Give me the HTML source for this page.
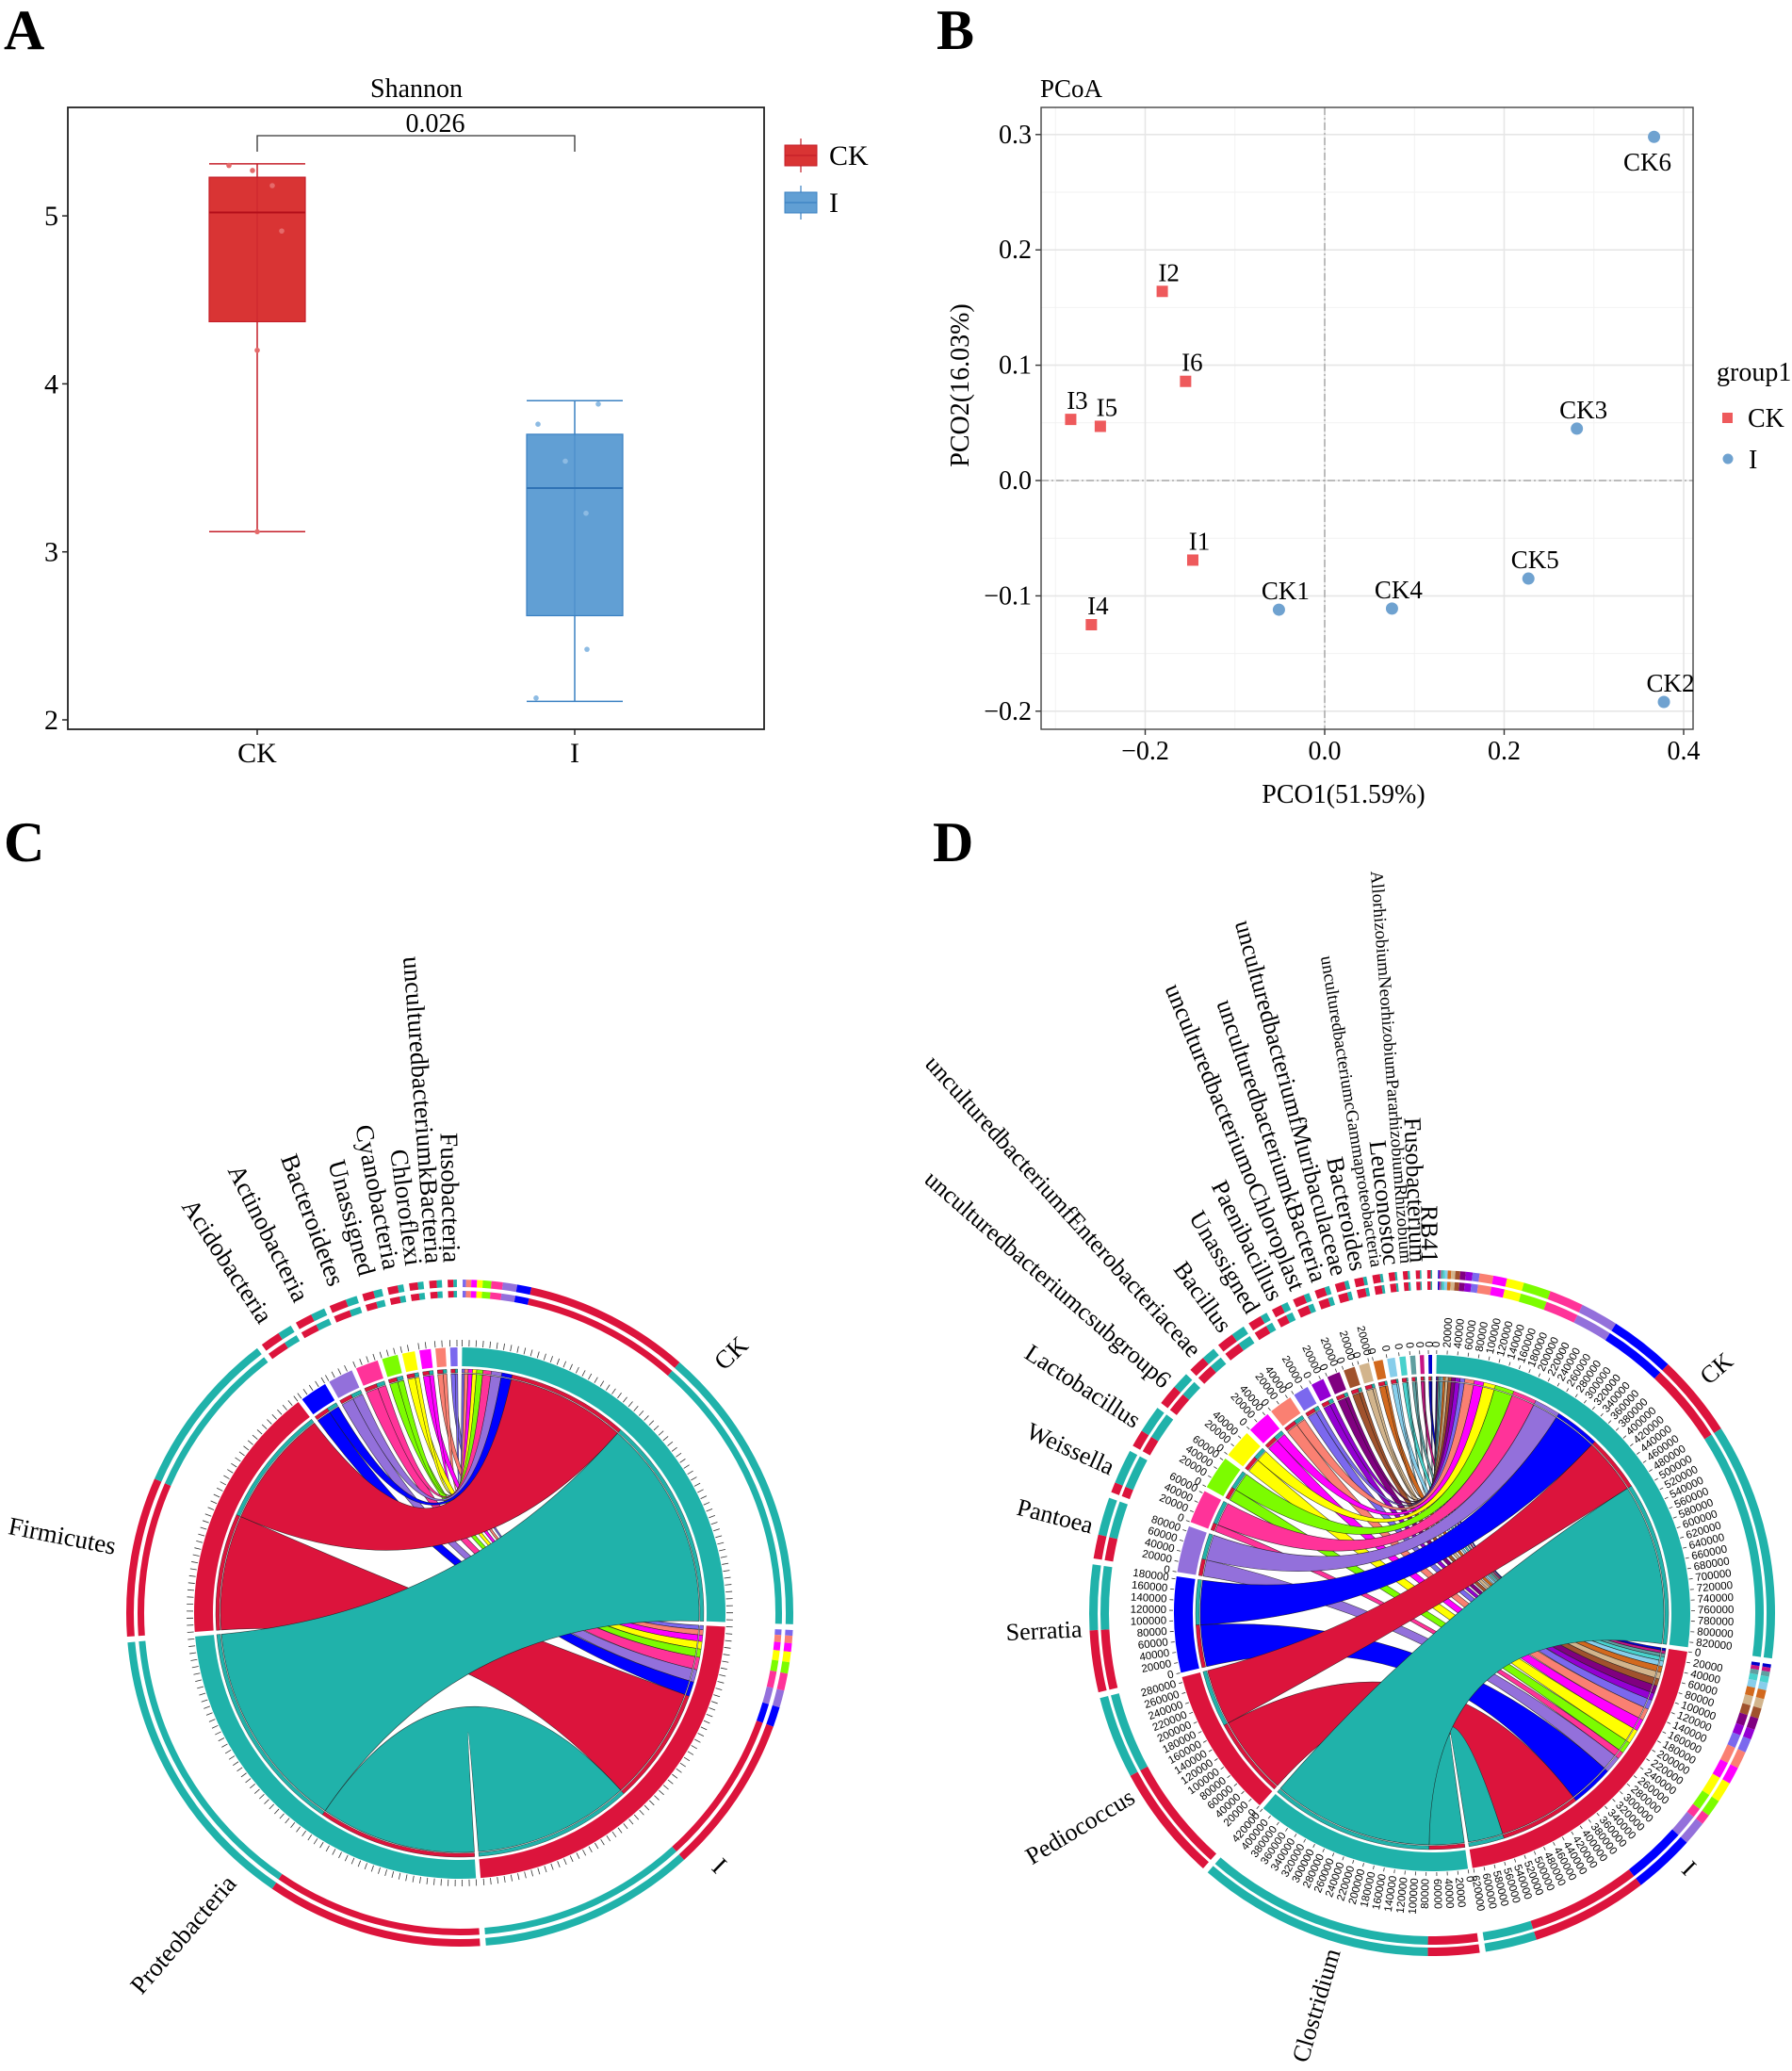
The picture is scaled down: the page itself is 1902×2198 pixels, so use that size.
<!DOCTYPE html>
<html><head><meta charset="utf-8"><title>Figure</title>
<style>
html,body{margin:0;padding:0;background:#fff;}
svg{display:block;}
</style></head>
<body>
<svg id="fig" width="1902" height="2198" viewBox="0 0 1902 2198">
<rect x="0" y="0" width="1902" height="2198" fill="#fff"/>
<text x="4" y="52" font-size="60" font-weight="bold" font-family="Liberation Serif, serif">A</text>
<text x="994" y="52" font-size="60" font-weight="bold" font-family="Liberation Serif, serif">B</text>
<text x="4" y="914" font-size="60" font-weight="bold" font-family="Liberation Serif, serif">C</text>
<text x="990" y="914" font-size="60" font-weight="bold" font-family="Liberation Serif, serif">D</text>
<g id="pa"></g>
<g id="pb"></g>
<g id="pc"></g>
<g id="pd"></g>
</svg>
<script>
// ---------- Panel A data ----------
const boxGroups = ['CK', 'I'];
const boxMin = [3.12, 2.11];
const boxQ1 = [4.37, 2.62];
const boxMed = [5.02, 3.38];
const boxQ3 = [5.23, 3.70];
const boxMax = [5.31, 3.90];
const ckPoints = [5.30, 5.27, 5.18, 4.91, 4.20, 3.12];
const iPoints = [3.88, 3.76, 3.54, 3.23, 2.42, 2.13];
const pointJitter = [[-30, -5, 16, 26, 0, 0], [25, -39, -10, 12, 13, -41]];
const aTicks = [2, 3, 4, 5];
const pValue = '0.026';

// ---------- Panel B data ----------
const pcoaNames = ['I1','I2','I3','I4','I5','I6','CK1','CK2','CK3','CK4','CK5','CK6'];
const pcoaX = [-0.147,-0.181,-0.283,-0.260,-0.250,-0.155,-0.051,0.378,0.281,0.075,0.227,0.367];
const pcoaY = [-0.069,0.164,0.053,-0.125,0.047,0.086,-0.112,-0.192,0.045,-0.111,-0.085,0.298];
const pcoaGroup = ['CK','CK','CK','CK','CK','CK','I','I','I','I','I','I'];
const bXTicks = [-0.2, 0, 0.2, 0.4];
const bXTickLabels = ['\u22120.2', '0.0', '0.2', '0.4'];
const bYTicks = [-0.2, -0.1, 0, 0.1, 0.2, 0.3];
const bYTickLabels = ['\u22120.2', '\u22120.1', '0.0', '0.1', '0.2', '0.3'];
const bXMinor = [-0.3, -0.1, 0.1, 0.3];
const bYMinor = [-0.15, -0.05, 0.05, 0.15, 0.25];

// ---------- Panel C data ----------
const cTaxa = ['Proteobacteria','Firmicutes','Acidobacteria','Actinobacteria','Bacteroidetes','Unassigned','Cyanobacteria','Chloroflexi','unculturedbacteriumkBacteria','Fusobacteria'];
const cCK = [51, 29, 2.5, 2.5, 2.0, 1.5, 1.0, 1.0, 0.9, 0.6];
const cI = [38, 28, 3.5, 3.0, 3.0, 2.0, 1.8, 1.5, 1.3, 1.0];
const cColors = ['#20B2AA','#DC143C','#0000FF','#9370DB','#FF3399','#7CFC00','#FFFF00','#FF00FF','#FA8072','#7B68EE'];

// ---------- Panel D data ----------
const dTaxa = ['Clostridium','Pediococcus','Serratia','Pantoea','Weissella','Lactobacillus','unculturedbacteriumcsubgroup6','unculturedbacteriumfEnterobacteriaceae','Bacillus','Unassigned','Paenibacillus','unculturedbacteriumoChloroplast','unculturedbacteriumkBacteria','unculturedbacteriumfMuribaculaceae','Bacteroides','unculturedbacteriumcGammaproteobacteria','Leuconostoc','AllorhizobiumNeorhizobiumPararhizobiumRhizobium','Fusobacterium','RB41'];
const dCK = [345000,120000,95000,55000,50000,40000,25000,20000,20000,10000,10000,8000,7000,6000,5000,4000,3000,3000,2000,2000];
const dI = [75000,170000,90000,35000,15000,25000,30000,25000,25000,20000,15000,17000,15000,14000,13000,11000,9000,7000,6000,5000];
const dColors = ['#20B2AA','#DC143C','#0000FF','#9370DB','#FF3399','#7CFC00','#FFFF00','#FF00FF','#FA8072','#7B68EE','#9400D3','#800080','#A0522D','#D2B48C','#D2691E','#87CEEB','#48D1CC','#5F9EA0','#C71585','#0000CD'];

const NS = 'http://www.w3.org/2000/svg';
const SERIF = '"Liberation Serif", serif';
function mk(tag, attrs, parent) {
  const e = document.createElementNS(NS, tag);
  for (const k in attrs) e.setAttribute(k, attrs[k]);
  parent.appendChild(e);
  return e;
}
function txt(parent, x, y, s, size, extra) {
  const t = mk('text', Object.assign({x: x, y: y, 'font-size': size, 'font-family': SERIF}, extra || {}), parent);
  t.textContent = s;
  return t;
}

// ================= Panel A =================
(function () {
  const g = document.getElementById('pa');
  const yA = v => 764 - (v - 2) * 178.3;
  const xA = i => 273 + i * 337;
  const fills = ['#D93434', '#619FD4'];
  const strokes = ['#C41E28', '#3A80C2'];
  const ptFill = ['#E56A6A', '#8DBBE3'];
  const t0 = txt(g, 442, 103, 'Shannon', 28, {'text-anchor': 'middle'});
  
  
  const frame = mk('rect', {x: 72, y: 114, width: 739, height: 660, fill: 'none', stroke: '#222', 'stroke-width': 1.8}, g);
  
  
  aTicks.forEach(v => {
    const tk = mk('line', {x1: 66, x2: 72, y1: yA(v), y2: yA(v), stroke: '#222', 'stroke-width': 1.5}, g);
    
    
    const tl = txt(g, 62, yA(v) + 10, String(v), 30, {'text-anchor': 'end'});
    
    
  });
  const pts = [ckPoints, iPoints];
  boxGroups.forEach((name, i) => {
    const x = xA(i), hw = 51;
    const wl = mk('line', {x1: x, x2: x, y1: yA(boxMax[i]), y2: yA(boxMin[i]), stroke: strokes[i], 'stroke-width': 1.5}, g);
    
    
    [boxMax[i], boxMin[i]].forEach(v => {
      const c = mk('line', {x1: x - hw, x2: x + hw, y1: yA(v), y2: yA(v), stroke: strokes[i], 'stroke-width': 1.5}, g);
      
      
    });
    const b = mk('rect', {x: x - hw, y: yA(boxQ3[i]), width: hw * 2, height: yA(boxQ1[i]) - yA(boxQ3[i]), fill: fills[i], stroke: strokes[i], 'stroke-width': 1.2}, g);
    
    
    const wl2 = mk('line', {x1: x, x2: x, y1: yA(boxQ3[i]), y2: yA(boxQ1[i]), stroke: strokes[i], 'stroke-width': 1, opacity: 0.7}, g);
    
    
    const m = mk('line', {x1: x - hw, x2: x + hw, y1: yA(boxMed[i]), y2: yA(boxMed[i]), stroke: i === 0 ? '#B30E1A' : '#2F72B5', 'stroke-width': 2}, g);
    
    
    pts[i].forEach((v, k) => {
      const p = mk('circle', {cx: x + pointJitter[i][k], cy: yA(v), r: 2.8, fill: ptFill[i]}, g);
      
      
    });
    const xt = mk('line', {x1: x, x2: x, y1: 774, y2: 780, stroke: '#222', 'stroke-width': 1.5}, g);
    
    
    const xl = txt(g, x, 809, name, 30, {'text-anchor': 'middle'});
    
    
  });
  const yb = 144;
  const br = mk('path', {d: `M${xA(0)},${yb + 17} V${yb} H${xA(1)} V${yb + 17}`, fill: 'none', stroke: '#333', 'stroke-width': 1.3}, g);
  
  
  const pv = txt(g, 462, 140, pValue, 28, {'text-anchor': 'middle'});
  
  
  boxGroups.forEach((name, i) => {
    const y0 = 154 + i * 50;
    const lg = mk('g', {}, g);
    
    
    mk('line', {x1: 850, x2: 850, y1: y0 - 7, y2: y0 + 29, stroke: strokes[i], 'stroke-width': 1.2}, lg);
    mk('rect', {x: 833, y: y0, width: 34, height: 22, fill: fills[i], stroke: strokes[i], 'stroke-width': 1}, lg);
    mk('line', {x1: 833, x2: 867, y1: y0 + 11, y2: y0 + 11, stroke: strokes[i], 'stroke-width': 1.2}, lg);
    txt(lg, 880, y0 + 21, name, 30);
  });
})();

// ================= Panel B =================
(function () {
  const g = document.getElementById('pb');
  const xB = v => 1406 + v * 952.5;
  const yB = v => 510 - v * 1224;
  const L = 1105, R = 1797, T = 114, B = 774;
  bXMinor.forEach(v => {
    const l = mk('line', {x1: xB(v), x2: xB(v), y1: T, y2: B, stroke: '#F2F2F2', 'stroke-width': 1}, g);
    
    
  });
  bYMinor.forEach(v => {
    const l = mk('line', {x1: L, x2: R, y1: yB(v), y2: yB(v), stroke: '#F2F2F2', 'stroke-width': 1}, g);
    
    
  });
  bXTicks.forEach((v, i) => {
    const l = mk('line', {x1: xB(v), x2: xB(v), y1: T, y2: B, stroke: '#E6E6E6', 'stroke-width': 1.6}, g);
    
    
    const tk = mk('line', {x1: xB(v), x2: xB(v), y1: B, y2: B + 6, stroke: '#333', 'stroke-width': 1.4}, g);
    
    
    const tl = txt(g, xB(v), 806, bXTickLabels[i], 28, {'text-anchor': 'middle'});
    
    
  });
  bYTicks.forEach((v, i) => {
    const l = mk('line', {x1: L, x2: R, y1: yB(v), y2: yB(v), stroke: '#E6E6E6', 'stroke-width': 1.6}, g);
    
    
    const tk = mk('line', {x1: L - 6, x2: L, y1: yB(v), y2: yB(v), stroke: '#333', 'stroke-width': 1.4}, g);
    
    
    const tl = txt(g, L - 10, yB(v) + 9, bYTickLabels[i], 28, {'text-anchor': 'end'});
    
    
  });
  const z1 = mk('line', {x1: xB(0), x2: xB(0), y1: T, y2: B, stroke: '#9A9A9A', 'stroke-width': 1.2, 'stroke-dasharray': '8 3 2 3'}, g);
  
  
  const z2 = mk('line', {x1: L, x2: R, y1: yB(0), y2: yB(0), stroke: '#9A9A9A', 'stroke-width': 1.2, 'stroke-dasharray': '8 3 2 3'}, g);
  
  
  const fr = mk('rect', {x: L, y: T, width: R - L, height: B - T, fill: 'none', stroke: '#444', 'stroke-width': 1.4}, g);
  
  
  pcoaNames.forEach((name, i) => {
    const x = xB(pcoaX[i]), y = yB(pcoaY[i]);
    let m;
    if (pcoaGroup[i] === 'CK') {
      m = mk('rect', {x: x - 6, y: y - 6, width: 12, height: 12, fill: '#EE5A5C'}, g);
    } else {
      m = mk('circle', {cx: x, cy: y, r: 6.5, fill: '#6FA2D0'}, g);
    }
    
    
    const below = pcoaY[i] > 0.25;
    const lb = txt(g, x + (below ? -7 : 7), below ? y + 36 : y - 11, name, 27, {'text-anchor': 'middle'});
    
    
  });
  const tt = txt(g, 1104, 103, 'PCoA', 27);
  
  
  const xt = txt(g, 1426, 852, 'PCO1(51.59%)', 28, {'text-anchor': 'middle'});
  
  
  const yt = txt(g, 0, 0, 'PCO2(16.03%)', 28, {'text-anchor': 'middle', transform: 'translate(1028,409) rotate(-90)'});
  
  
  const lt = txt(g, 1822, 404, 'group1', 28);
  
  
  const l1 = mk('g', {}, g);
  
  
  mk('rect', {x: 1828, y: 438, width: 11, height: 11, fill: '#EE5A5C'}, l1);
  txt(l1, 1855, 453, 'CK', 28);
  const l2 = mk('g', {}, g);
  
  
  mk('circle', {cx: 1834, cy: 487, r: 5.5, fill: '#6FA2D0'}, l2);
  txt(l2, 1856, 497, 'I', 28);
})();

// ================= Chord diagrams =================
function P(cx, cy, r, a) {
  const t = a * Math.PI / 180;
  return [cx + r * Math.sin(t), cy - r * Math.cos(t)];
}
function band(cx, cy, a1, a2, r0, r1) {
  const lg = (a2 - a1) > 180 ? 1 : 0;
  const p1 = P(cx, cy, r1, a1), p2 = P(cx, cy, r1, a2), p3 = P(cx, cy, r0, a2), p4 = P(cx, cy, r0, a1);
  return `M${p1[0]},${p1[1]} A${r1},${r1} 0 ${lg} 1 ${p2[0]},${p2[1]} L${p3[0]},${p3[1]} A${r0},${r0} 0 ${lg} 0 ${p4[0]},${p4[1]} Z`;
}
function ribbon(cx, cy, r, s, t) {
  const a1 = P(cx, cy, r, s[0]), a2 = P(cx, cy, r, s[1]), b1 = P(cx, cy, r, t[0]), b2 = P(cx, cy, r, t[1]);
  const la = (s[1] - s[0]) > 180 ? 1 : 0, lb = (t[1] - t[0]) > 180 ? 1 : 0;
  return `M${a1[0]},${a1[1]} A${r},${r} 0 ${la} 1 ${a2[0]},${a2[1]} Q${cx},${cy} ${b1[0]},${b1[1]} A${r},${r} 0 ${lb} 1 ${b2[0]},${b2[1]} Q${cx},${cy} ${a1[0]},${a1[1]} Z`;
}
function radialText(parent, cx, cy, r, a, s, size, family) {
  const p = P(cx, cy, r, a);
  const aa = ((a % 360) + 360) % 360;
  const right = aa < 180;
  const rot = right ? aa - 90 : aa + 90;
  const t = mk('text', {x: 0, y: 0, 'font-size': size, 'text-anchor': right ? 'start' : 'end', 'dominant-baseline': 'central',
    'font-family': family || SERIF,
    transform: `translate(${p[0]},${p[1]}) rotate(${rot})`}, parent);
  t.textContent = s;
  return t;
}

function drawChord(g, cfg) {
  const {cx, cy, R, trackW, taxa, ck, iv, colors, theta0, gap} = cfg;
  const n = taxa.length;
  const groupNames = ['CK', 'I'];
  const groupColors = ['#20B2AA', '#DC143C'];
  const vals = [ck, iv];
  const sum = a => a.reduce((x, y) => x + y, 0);
  const tot = [sum(ck), sum(iv)].concat(taxa.map((t, j) => ck[j] + iv[j]));
  const names = groupNames.concat(taxa);
  const scolors = groupColors.concat(colors);
  const grand = sum(tot);
  const k = (360 - gap * tot.length) / grand;
  const starts = [];
  let a = theta0;
  tot.forEach(v => { starts.push(a); a += v * k + gap; });
  const gSeg = [[], []];
  for (let gi = 0; gi < 2; gi++) {
    let pos = starts[gi];
    for (let j = n - 1; j >= 0; j--) { gSeg[gi][j] = [pos, pos + vals[gi][j] * k]; pos += vals[gi][j] * k; }
  }
  const tSeg = taxa.map((t, j) => {
    const s = starts[2 + j];
    return [[s + iv[j] * k, s + (iv[j] + ck[j]) * k], [s, s + iv[j] * k]];
  });
  const rIn = R - trackW;
  const rChord = rIn - 8;
  for (let j = n - 1; j >= 0; j--) {
    for (let gi = 1; gi >= 0; gi--) {
      if (vals[gi][j] <= 0) continue;
      const c = mk('path', {d: ribbon(cx, cy, rChord, tSeg[j][gi], gSeg[gi][j]), fill: colors[j], stroke: '#1a1a1a', 'stroke-width': 0.6, 'stroke-opacity': 0.8}, g);
      
      
    }
  }
  for (let j = 0; j < n; j++) {
    for (let gi = 0; gi < 2; gi++) {
      const b1 = mk('path', {d: band(cx, cy, tSeg[j][gi][0], tSeg[j][gi][1], rIn - 7, rIn - 3), fill: groupColors[gi], stroke: '#222', 'stroke-width': 0.4}, g);
      
      
      const b2 = mk('path', {d: band(cx, cy, gSeg[gi][j][0], gSeg[gi][j][1], rIn - 7, rIn - 3), fill: colors[j], stroke: '#222', 'stroke-width': 0.4}, g);
      
      
    }
  }
  names.forEach((nm, s) => {
    const a1 = starts[s], a2 = starts[s] + tot[s] * k;
    const tr = mk('path', {d: band(cx, cy, a1, a2, rIn, R), fill: scolors[s]}, g);
    
    
    const step = cfg.tickStep;
    for (let v = 0; v <= tot[s] + 1e-9; v += step) {
      const ang = a1 + v * k;
      const p1 = P(cx, cy, R + 1, ang), p2 = P(cx, cy, R + cfg.tickLen, ang);
      const tk = mk('line', {x1: p1[0], y1: p1[1], x2: p2[0], y2: p2[1], stroke: '#333', 'stroke-width': 0.8}, g);
      
      
      if (cfg.tickLabels) {
        const tl = radialText(g, cx, cy, R + cfg.tickLen + 3, ang, String(Math.round(v)), cfg.tickFont, '"Liberation Sans", sans-serif');
        
        
      }
    }
    let segs;
    if (s < 2) {
      segs = [];
      for (let j = n - 1; j >= 0; j--) segs.push([gSeg[s][j], colors[j]]);
    } else {
      const j = s - 2;
      segs = [[tSeg[j][1], groupColors[1]], [tSeg[j][0], groupColors[0]]];
    }
    cfg.rings.forEach(rr => {
      segs.forEach(sg => {
        const rp = mk('path', {d: band(cx, cy, sg[0][0], sg[0][1], rr[0], rr[1]), fill: sg[1]}, g);
        
        
      });
    });
    let la = (a1 + a2) / 2;
    if (cfg.labelAngle && cfg.labelAngle[nm] !== undefined) la = cfg.labelAngle[nm];
    const small = cfg.smallLabels && cfg.smallLabels.indexOf(nm) >= 0;
    const lr = s < 2 ? cfg.groupLabelR : cfg.labelR;
    const lt = radialText(g, cx, cy, lr, la, nm, small ? cfg.smallFont : cfg.labelFont);
    
    
  });
}

drawChord(document.getElementById('pc'), {
  cx: 488, cy: 1712, R: 282, trackW: 20, taxa: cTaxa, ck: cCK, iv: cI, colors: cColors,
  theta0: 0.5, gap: 1.0, tickStep: 1.5, tickLen: 8, tickLabels: false,
  rings: [[335, 342], [346, 354]], labelR: 372, groupLabelR: 380, labelFont: 27,
  labelAngle: {Firmicutes: 281}
});
drawChord(document.getElementById('pd'), {
  cx: 1520, cy: 1712, R: 274, trackW: 20, taxa: dTaxa, ck: dCK, iv: dI, colors: dColors,
  theta0: 1.0, gap: 1.0, tickStep: 20000, tickLen: 5, tickLabels: true, tickFont: 11.5,
  rings: [[343, 352], [355, 364]], labelR: 372, groupLabelR: 380, labelFont: 26,
  smallLabels: ['unculturedbacteriumcGammaproteobacteria', 'AllorhizobiumNeorhizobiumPararhizobiumRhizobium'], smallFont: 19
});
</script>
</body></html>
